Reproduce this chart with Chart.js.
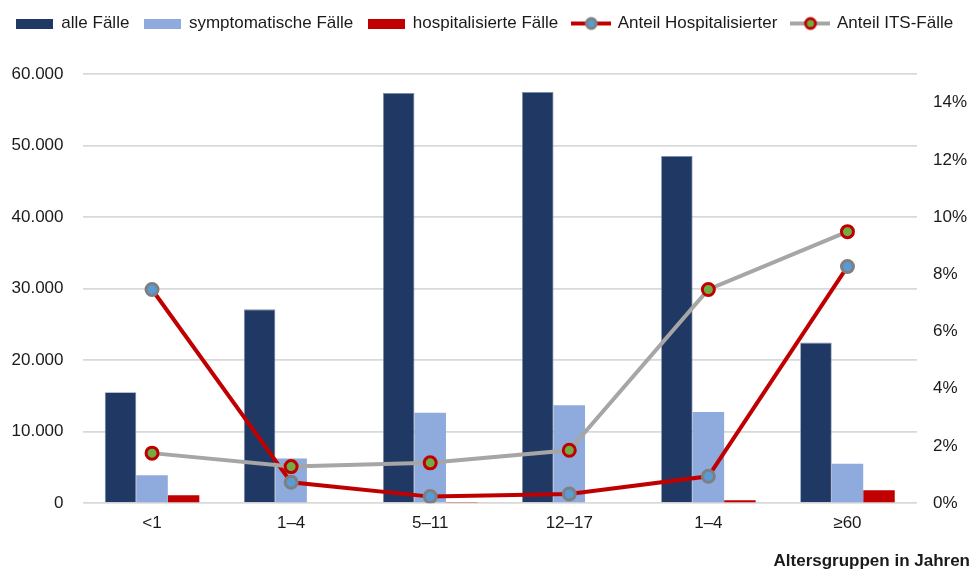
<!DOCTYPE html>
<html>
<head>
<meta charset="utf-8">
<script src="https://cdn.jsdelivr.net/npm/chart.js@4"></script>
<style>
  html, body { margin: 0; padding: 0; background: #fff; }
  #wrap { width: 970px; height: 572px; }
</style>
</head>
<body>
<div id="wrap"><canvas id="grafico"></canvas></div>
<script>
const categories = ['<1', '1–4', '5–11', '12–17', '1–4', '≥60'];
const alleFaelle = [15500, 27100, 57350, 57500, 48550, 22450];
const symptomatische = [3900, 6250, 12650, 13700, 12750, 5500];
const hospitalisierte = [1120, 140, 100, 150, 420, 1800];
const anteilHosp = [7.47, 0.73, 0.23, 0.32, 0.94, 8.27];
const anteilIts = [1.75, 1.28, 1.41, 1.85, 7.47, 9.49];
const leftTicks = [0, 10000, 20000, 30000, 40000, 50000, 60000];
const rightTicks = [0, 2, 4, 6, 8, 10, 12, 14];

const FONT = "'Liberation Sans', Arial, sans-serif";
const TXT = '#1a1a1a';

function boxIcon(color) {
    const c = document.createElement('canvas');
    c.width = 37; c.height = 10;
    const g = c.getContext('2d');
    g.fillStyle = color;
    g.fillRect(0, 0, 37, 10);
    return c;
}

function lineIcon(lineColor, fill, border) {
    const c = document.createElement('canvas');
    c.width = 40; c.height = 16;
    const g = c.getContext('2d');
    g.strokeStyle = lineColor;
    g.lineWidth = 4;
    g.beginPath(); g.moveTo(0, 8); g.lineTo(40, 8); g.stroke();
    g.beginPath(); g.arc(20, 8, 5, 0, Math.PI * 2);
    g.fillStyle = fill; g.fill();
    g.lineWidth = 2.8; g.strokeStyle = border; g.stroke();
    return c;
}

function formatDe(v) {
    return String(v).replace(/\B(?=(\d{3})+(?!\d))/g, '.');
}

// extra room below the legend
const legendGap = {
    id: 'legendGap',
    beforeInit(chart) {
        const fit = chart.legend.fit;
        chart.legend.fit = function () {
            fit.bind(chart.legend)();
            this.height += 32;
        };
    }
};

const ctx = document.getElementById('grafico');
new Chart(ctx, {
    type: 'bar',
    data: {
        labels: categories,
        datasets: [{
            label: 'alle Fälle',
            data: alleFaelle,
            backgroundColor: '#203864',
            borderColor: '#7f8fa9',
            borderWidth: 0.8,
            yAxisID: 'y',
            order: 2,
            legendIcon: boxIcon('#203864')
        }, {
            label: 'symptomatische Fälle',
            data: symptomatische,
            backgroundColor: '#8faadc',
            yAxisID: 'y',
            order: 2,
            legendIcon: boxIcon('#8faadc')
        }, {
            label: 'hospitalisierte Fälle',
            data: hospitalisierte,
            backgroundColor: '#c00000',
            yAxisID: 'y',
            order: 2,
            legendIcon: boxIcon('#c00000')
        }, {
            type: 'line',
            label: 'Anteil Hospitalisierter',
            data: anteilHosp,
            borderColor: '#c00000',
            borderWidth: 4,
            pointRadius: 6,
            pointBorderWidth: 3,
            pointBackgroundColor: '#5b9bd5',
            pointBorderColor: '#7f7f7f',
            yAxisID: 'y1',
            order: 1,
            legendIcon: lineIcon('#c00000', '#5b9bd5', '#7f7f7f')
        }, {
            type: 'line',
            label: 'Anteil ITS-Fälle',
            data: anteilIts,
            borderColor: '#a6a6a6',
            borderWidth: 4,
            pointRadius: 6,
            pointBorderWidth: 3,
            pointBackgroundColor: '#70ad47',
            pointBorderColor: '#c00000',
            yAxisID: 'y1',
            order: 0,
            legendIcon: lineIcon('#a6a6a6', '#70ad47', '#c00000')
        }]
    },
    options: {
        responsive: true,
        maintainAspectRatio: false,
        animation: false,
        layout: { padding: { top: 0, left: 0, right: 0, bottom: 0 } },
        datasets: {
            bar: { categoryPercentage: 0.68, barPercentage: 1 }
        },
        plugins: {
            tooltip: { enabled: false },
            legend: {
                position: 'top',
                labels: {
                    usePointStyle: true,
                    pointStyleWidth: 36,
                    padding: 15,
                    color: TXT,
                    font: { family: FONT, size: 17 },
                    generateLabels: (chart) => chart.data.datasets.map((ds, i) => ({
                        text: ds.label,
                        pointStyle: ds.legendIcon,
                        fillStyle: 'transparent',
                        strokeStyle: 'transparent',
                        lineWidth: 0,
                        fontColor: TXT,
                        datasetIndex: i,
                        hidden: false
                    }))
                }
            },
            title: {
                display: true,
                position: 'bottom',
                align: 'end',
                text: 'Altersgruppen in Jahren',
                color: TXT,
                font: { family: FONT, size: 17, weight: 'bold' },
                padding: { top: 16, bottom: 0 }
            }
        },
        scales: {
            x: {
                grid: { display: false },
                border: { display: false },
                ticks: { color: TXT, font: { family: FONT, size: 17 }, padding: 2 }
            },
            y: {
                position: 'left',
                min: 0,
                max: 60000,
                afterBuildTicks: (s) => { s.ticks = leftTicks.map(v => ({ value: v })); },
                grid: { color: '#d9d9d9', lineWidth: 1.8, drawTicks: false },
                border: { display: false },
                ticks: {
                    color: TXT,
                    font: { family: FONT, size: 17 },
                    padding: 19,
                    callback: (v) => formatDe(v)
                },
                afterFit: (s) => { s.width = 82.5; }
            },
            y1: {
                position: 'right',
                min: 0,
                max: 15,
                afterBuildTicks: (s) => { s.ticks = rightTicks.map(v => ({ value: v })); },
                grid: { display: false, drawTicks: false },
                border: { display: false },
                ticks: {
                    color: TXT,
                    font: { family: FONT, size: 17 },
                    padding: 16,
                    callback: (v) => v + '%'
                },
                afterFit: (s) => { s.width = 53; }
            }
        }
    },
    plugins: [legendGap]
});
</script>
</body>
</html>
